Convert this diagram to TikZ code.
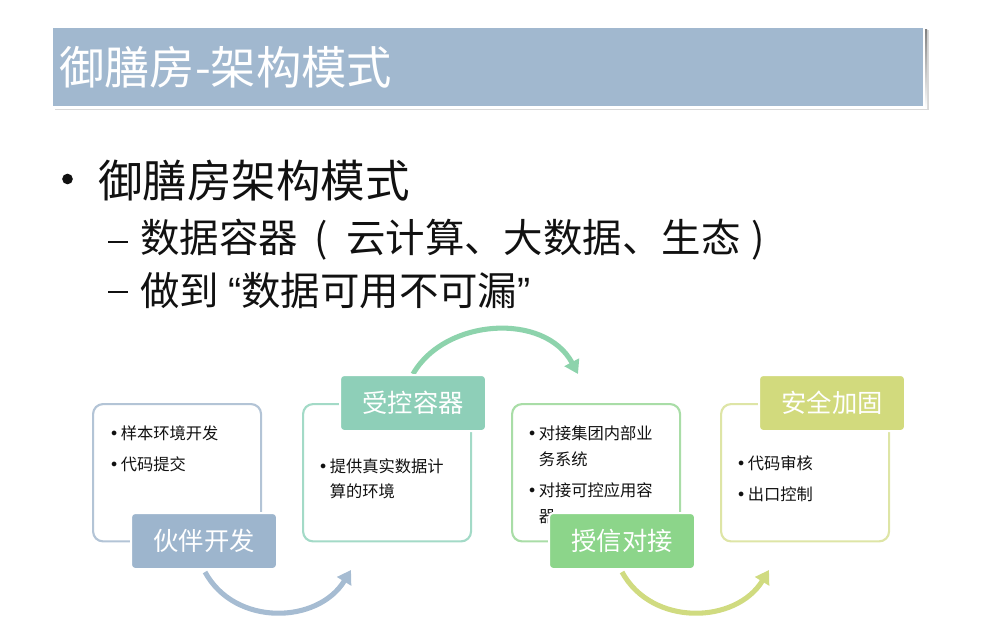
\documentclass[tikz,border=0pt]{standalone}
\usepackage{fontspec}
\setmainfont{Noto Sans CJK SC}
\newfontfamily\dejavu{DejaVu Sans}
\newfontfamily\libsans{Liberation Sans}
\usetikzlibrary{arrows.meta}
\definecolor{titlebg}{HTML}{A1B8CF}
\definecolor{shade}{HTML}{BEBEBE}
\definecolor{c1}{HTML}{9DB5CD}
\definecolor{c1l}{HTML}{B3C4D6}
\definecolor{c2}{HTML}{8ECFB8}
\definecolor{c2l}{HTML}{A3DAC7}
\definecolor{c3}{HTML}{8CD58A}
\definecolor{c3l}{HTML}{A9DDA7}
\definecolor{c4}{HTML}{D2DA7D}
\definecolor{c4l}{HTML}{DEE5A6}
\definecolor{a1}{HTML}{A6BCD2}
\definecolor{a2}{HTML}{8DD3AC}
\definecolor{a3}{HTML}{D0DB80}
\definecolor{ink}{HTML}{111111}
\tikzset{
  outerbox/.style={draw=#1, line width=1.6pt, rounded corners=7.5pt, fill=white},
  labelbox/.style={fill=#1, draw=white, line width=1.5pt, rounded corners=3pt,
    minimum width=109.5pt, minimum height=42pt, text=white, inner sep=0pt,
    font=\fontsize{19}{22}\selectfont},
  boxtext/.style={anchor=north west, inner sep=0pt, text=ink,
    font=\fontsize{12.2}{19.5}\selectfont},
  flow/.style={draw=#1, line width=3.8pt, -{Triangle[length=10pt,width=12pt]}},
  bigtext/.style={anchor=west, inner sep=0pt, text=ink},
  bigdot/.style={circle, fill=ink, inner sep=0pt, minimum size=8pt},
  bigdash/.style={inner sep=0pt, text=ink},
}
\newcommand{\bb}{{\dejavu •}}
\newcommand{\myopenq}{{\libsans “}}
\newcommand{\mycloseq}{{\libsans ”}}
\newcommand{\mydash}{\rule{14.5pt}{2pt}}
\begin{document}
\begin{tikzpicture}[x=0.75pt,y=-0.75pt]
\useasboundingbox (0,0) rectangle (1000,625);
% title band
\fill[shade!60] (55,30) rectangle (929,110);
\fill[shade] (54,29) rectangle (927,108);
\node[draw=white, line width=1.5pt, fill=titlebg, anchor=north west, minimum width=654pt, minimum height=60pt, inner sep=0pt] (band) at (51,26) {};
\node[anchor=west, text=white, inner sep=0pt, font=\fontsize{34}{38}\selectfont] (title) at (59,67) {御膳房-架构模式};
% main bullets
\node[bigdot] (dot1) at (67.5,179) {};
\node[bigtext, font=\fontsize{33.4}{40}\selectfont] (l1) at (98,181) {御膳房架构模式};
\node[bigdash] (dash2) at (118,242) {\mydash};
\node[bigtext, font=\fontsize{29.6}{34}\selectfont] (l2) at (140,240) {数据容器\hspace{12pt}(\hspace{14pt}云计算、大数据、生态\hspace{8pt})};
\node[bigdash] (dash3) at (118,292) {\mydash};
\node[bigtext, font=\fontsize{29.6}{34}\selectfont] (l3) at (140,291) {做到 \myopenq 数据可用不可漏\mycloseq};
% arrows
\coordinate (a1s) at (205,572);
\coordinate (a1e) at (351,570);
\draw[flow=a1] (a1s) .. controls (235,627) and (318,624) .. (a1e);
\coordinate (a2s) at (413,374);
\coordinate (a2e) at (578,374);
\draw[flow=a2] (a2s) .. controls (445,318) and (545,312) .. (a2e);
\coordinate (a3s) at (622,572);
\coordinate (a3e) at (769,570);
\draw[flow=a3] (a3s) .. controls (652,627) and (736,624) .. (a3e);
% outer boxes
\node[outerbox=c1l, anchor=north west, minimum width=126pt, minimum height=103pt] (box1) at (92,403) {};
\node[outerbox=c2l, anchor=north west, minimum width=126pt, minimum height=103pt] (box2) at (302,403) {};
\node[outerbox=c3l, anchor=north west, minimum width=126pt, minimum height=103pt] (box3) at (511,403) {};
\node[outerbox=c4l, anchor=north west, minimum width=126pt, minimum height=103pt] (box4) at (720,403) {};
% box texts
\node[boxtext] (t1) at (109,421) {\begin{tabular}{@{}l@{\hspace{1.5pt}}l@{}}\bb & 样本环境开发\\[3.5pt] \bb & 代码提交\end{tabular}};
\node[boxtext] (t2) at (318,454) {\begin{tabular}{@{}l@{\hspace{1.5pt}}l@{}}\bb & 提供真实数据计\\[-1pt] & 算的环境\end{tabular}};
\node[boxtext] (t3) at (527,421) {\begin{tabular}{@{}l@{\hspace{1.5pt}}l@{}}\bb & 对接集团内部业\\ & 务系统\\[3.5pt] \bb & 对接可控应用容\\ & 器\end{tabular}};
\node[boxtext] (t4) at (736,451) {\begin{tabular}{@{}l@{\hspace{1.5pt}}l@{}}\bb & 代码审核\\[3.5pt] \bb & 出口控制\end{tabular}};
% labels
\node[labelbox=c1] (lab1) at (204,541) {伙伴开发};
\node[labelbox=c2] (lab2) at (413,403) {受控容器};
\node[labelbox=c3] (lab3) at (622,541) {授信对接};
\node[labelbox=c4] (lab4) at (832,403) {安全加固};
\end{tikzpicture}
\end{document}
